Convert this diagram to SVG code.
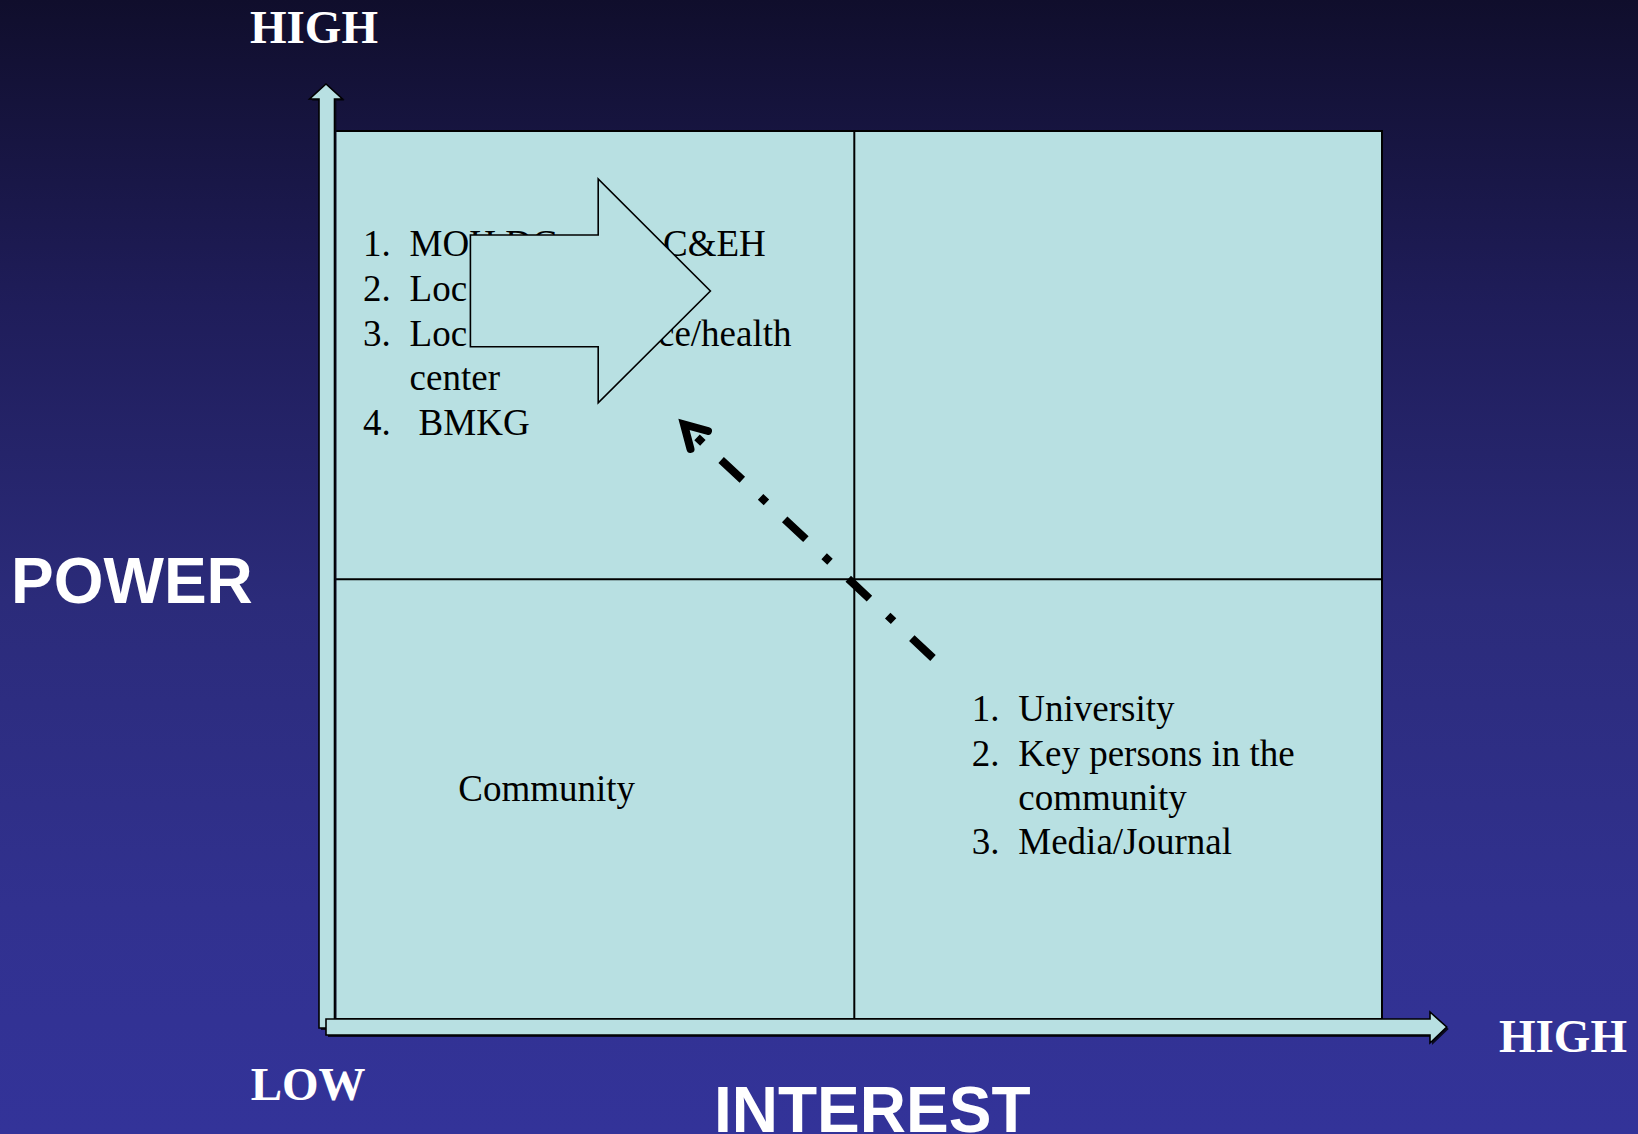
<svg xmlns="http://www.w3.org/2000/svg" width="1638" height="1134" viewBox="0 0 1638 1134">
  <defs>
    <linearGradient id="bg" x1="0" y1="0" x2="0" y2="1">
      <stop offset="0" stop-color="#100e2c"/>
      <stop offset="0.27" stop-color="#1f1d5a"/>
      <stop offset="0.53" stop-color="#2b2b7a"/>
      <stop offset="0.8" stop-color="#31318f"/>
      <stop offset="1" stop-color="#333399"/>
    </linearGradient>
  </defs>
  <style>
    .axis { fill: #b8e0e2; stroke: #000; stroke-width: 1.6; stroke-linejoin: miter; }
    .shadow { fill: #0a0a20; }
    .quad { fill: #b8e0e2; stroke: #000; stroke-width: 2; }
    .div { stroke: #000; stroke-width: 2; fill: none; }
    .serifW { font-family: "Liberation Serif", "Times New Roman", serif; font-weight: bold; fill: #fff; font-size: 47px; }
    .sansW { font-family: "Liberation Sans", Arial, sans-serif; font-weight: bold; fill: #fff; }
    .item { font-family: "Liberation Serif", "Times New Roman", serif; fill: #000; font-size: 37px; }
    .block { fill: #b8e0e2; stroke: #000; stroke-width: 1.6; }
    .dd { stroke: #000; stroke-width: 8; fill: none; }
  </style>
  <rect x="0" y="0" width="1638" height="1134" fill="url(#bg)"/>

  <g id="grid">
    <rect class="quad" x="334.5" y="131" width="1047.5" height="888"/>
    <line class="div" x1="854.3" y1="131" x2="854.3" y2="1019"/>
    <line class="div" x1="334.5" y1="579.3" x2="1382" y2="579.3"/>
  </g>

  <g id="power-axis">
    <path class="shadow" d="M321,1030 L321,101 L311.6,101 L328,86 L344.5,101 L336.5,101 L336.5,1030 Z"/>
    <path class="axis" d="M319,1028 L319,99 L309.6,99 L326,84 L342.5,99 L334.5,99 L334.5,1028 Z"/>
  </g>
  <g id="interest-axis">
    <path class="shadow" d="M328,1021 L1432,1021 L1432,1014 L1448.7,1029 L1432,1045 L1432,1037 L328,1037 Z"/>
    <path class="axis" d="M326,1019 L1430,1019 L1430,1012 L1446.7,1027 L1430,1043 L1430,1035 L326,1035 Z"/>
  </g>

  <g id="axis-labels">
    <text class="serifW" x="250" y="42.7">HIGH</text>
    <text class="serifW" x="1499" y="1051.7">HIGH</text>
    <text class="serifW" x="250.7" y="1100">LOW</text>
    <text class="sansW" x="11" y="602.7" font-size="64">POWER</text>
    <text class="sansW" x="714" y="1131.5" font-size="64">INTEREST</text>
  </g>

  <g id="quadrant-high-power-low-interest">
    <text class="item" x="363" y="256">1.</text>
    <text class="item" x="409.6" y="256">MOH DG</text>
    <text class="item" x="663" y="256">C&amp;EH</text>
    <text class="item" x="363" y="301">2.</text>
    <text class="item" x="409.6" y="301">Loc</text>
    <text class="item" x="363" y="345.5">3.</text>
    <text class="item" x="409.6" y="345.5">Loc</text>
    <text class="item" x="658" y="345.5">ce/health</text>
    <text class="item" x="409.6" y="390">center</text>
    <text class="item" x="363" y="435">4.</text>
    <text class="item" x="418.6" y="435">BMKG</text>
  </g>

  <g id="block-arrow">
    <polygon class="block" points="470.4,235 598.2,235 598.2,179 710.4,291 598.2,402.7 598.2,346.7 470.4,346.7"/>
  </g>

  <g id="quadrant-low-power-low-interest">
    <text class="item" x="458.3" y="800.7">Community</text>
  </g>

  <g id="quadrant-low-power-high-interest">
    <text class="item" x="971.7" y="720.7">1.</text>
    <text class="item" x="1018.3" y="720.7">University</text>
    <text class="item" x="971.7" y="765.7">2.</text>
    <text class="item" x="1018.3" y="765.7">Key persons in the</text>
    <text class="item" x="1018.3" y="810">community</text>
    <text class="item" x="971.7" y="854.3">3.</text>
    <text class="item" x="1018.3" y="854.3">Media/Journal</text>
  </g>

  <g id="connectors">
    <line class="dd" x1="933" y1="658" x2="688" y2="429" stroke-dasharray="29 25 8 25"/>
    <polyline class="dd" points="708,431 684,424.5 690.5,449" stroke-linecap="round" stroke-linejoin="miter"/>
  </g>
</svg>
